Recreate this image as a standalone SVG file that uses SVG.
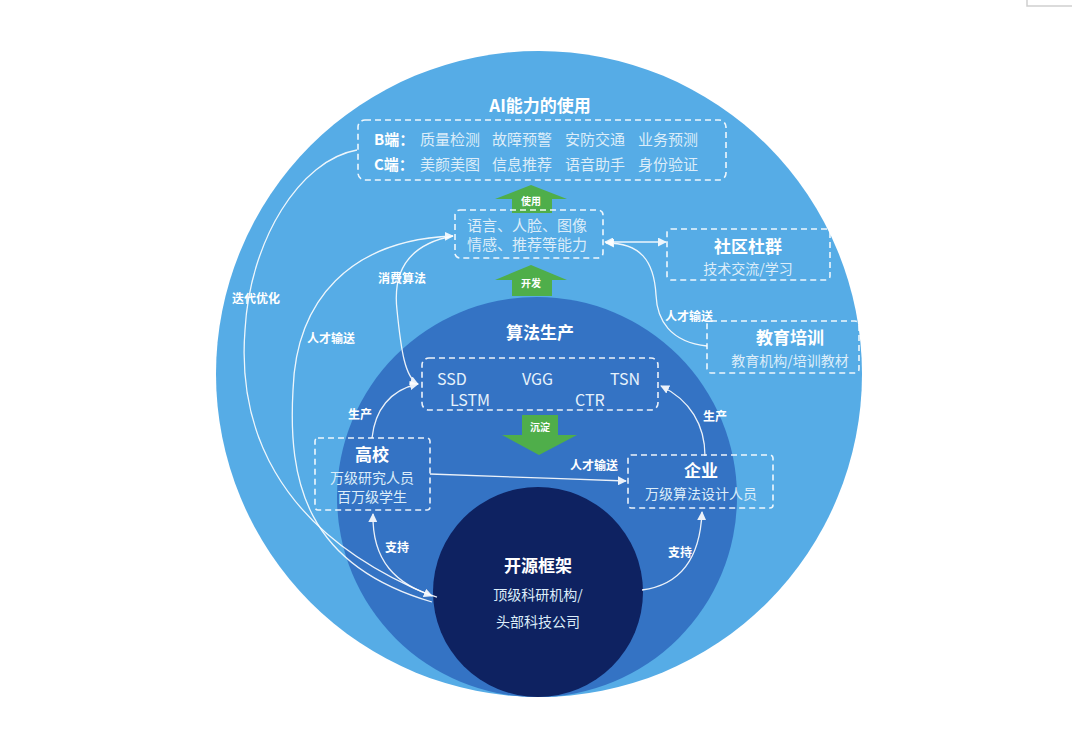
<svg xmlns="http://www.w3.org/2000/svg" width="1080" height="731" viewBox="0 0 1080 731">
<style>
text{font-family:"Noto Sans CJK SC","Noto Sans",sans-serif;}
.box{fill:none;stroke:#ffffff;stroke-width:1.6;stroke-dasharray:6 4;opacity:0.9}
.h{fill:#ffffff;font-weight:700;font-size:17px;text-anchor:middle}
.s{fill:#dcedf9;font-size:15px}
.sc{fill:#dcedf9;font-size:14px;text-anchor:middle}
.lbl{fill:#ffffff;font-weight:700;font-size:12px}
.al{fill:#ffffff;font-weight:700;font-size:10px;text-anchor:middle}
.con{fill:none;stroke:#ffffff;stroke-width:1.3;opacity:0.9}
.green{fill:#4fae4a}
.lat{fill:#e6f2fb;font-size:16px}
</style>
<defs>
<marker id="ah" viewBox="0 0 10 10" refX="9" refY="5" markerWidth="9" markerHeight="9" markerUnits="userSpaceOnUse" orient="auto-start-reverse">
<path d="M0,0 L10,5 L0,10 z" fill="#ffffff"/>
</marker>
</defs>
<rect width="1080" height="731" fill="#ffffff"/>
<path d="M1027 0 V6 H1072" fill="none" stroke="#cfcfcf" stroke-width="1.5"/>

<g id="circles">
<circle cx="539" cy="374" r="323" fill="#56ace6"/>
<circle cx="537" cy="497" r="200" fill="#3473c4"/>
<circle cx="538" cy="592" r="105" fill="#0e2261"/>
</g>

<g id="connectors">
<path class="con" d="M357 150 C300 160 250 240 245 330 C238 420 270 530 432 596" marker-end="url(#ah)"/>
<path class="con" d="M432 602 C305 565 288 480 293 390 C296 300 350 240 453 236" marker-end="url(#ah)"/>
<path class="con" d="M453 236 C405 245 393 275 397 310 C401 350 405 378 418 384" marker-end="url(#ah)"/>
<path class="con" d="M372 438 C375 410 390 390 418 384" marker-end="url(#ah)"/>
<path class="con" d="M705 456 C705 425 690 400 661 386" marker-end="url(#ah)"/>
<path class="con" d="M437 597 C395 585 372 560 373 514" marker-end="url(#ah)"/>
<path class="con" d="M642 590 C680 585 700 560 702 512" marker-end="url(#ah)"/>
<path class="con" d="M430 474 C500 476 560 479 626 481" marker-end="url(#ah)"/>
<path class="con" d="M605 242 L666 242" marker-start="url(#ah)" marker-end="url(#ah)"/>
<path class="con" d="M707 346 C670 342 657 320 656 295 C654 260 640 243 606 243" marker-end="url(#ah)"/>
<text class="lbl" x="232" y="303">迭代优化</text>
<text class="lbl" x="307" y="343">人才输送</text>
<text class="lbl" x="378" y="283">消费算法</text>
<text class="lbl" x="348" y="419">生产</text>
<text class="lbl" x="703" y="421">生产</text>
<text class="lbl" x="570" y="470">人才输送</text>
<text class="lbl" x="665" y="321">人才输送</text>
<text class="lbl" x="385" y="552">支持</text>
<text class="lbl" x="668" y="557">支持</text>
</g>

<g id="arrow-use">
<polygon class="green" points="531,185 567,199 552,199 552,213 512,213 512,199 495,199"/>
<text class="al" x="531" y="205">使用</text>
</g>
<g id="arrow-dev">
<polygon class="green" points="531,265 567,280 552,280 552,296 512,296 512,280 495,280"/>
<text class="al" x="531" y="287">开发</text>
</g>
<g id="arrow-settle">
<polygon class="green" points="522,415 558,415 558,435 577,435 539,455 502,435 522,435"/>
<text class="al" x="540" y="431">沉淀</text>
</g>

<g id="node-ai-use">
<text class="h" x="540" y="112" font-size="19">AI能力的使用</text>
<rect class="box" x="358" y="120" width="368" height="60" rx="7"/>
<text x="374" y="145" fill="#ffffff" font-weight="700" font-size="15">B端：</text>
<text class="s" x="420" y="145">质量检测</text>
<text class="s" x="492" y="145">故障预警</text>
<text class="s" x="565" y="145">安防交通</text>
<text class="s" x="638" y="145">业务预测</text>
<text x="374" y="170" fill="#ffffff" font-weight="700" font-size="15">C端：</text>
<text class="s" x="420" y="170">美颜美图</text>
<text class="s" x="492" y="170">信息推荐</text>
<text class="s" x="565" y="170">语音助手</text>
<text class="s" x="638" y="170">身份验证</text>
</g>

<g id="node-ability">
<rect class="box" x="455" y="210" width="148" height="48" rx="5"/>
<text class="s" x="467" y="231">语言、人脸、图像</text>
<text class="s" x="467" y="250">情感、推荐等能力</text>
</g>

<g id="node-community">
<rect class="box" x="667" y="229" width="163" height="51" rx="4"/>
<text class="h" x="748" y="253">社区杜群</text>
<text class="sc" x="748" y="274">技术交流/学习</text>
</g>

<g id="node-education">
<rect class="box" x="707" y="321" width="152" height="52" rx="4"/>
<text class="h" x="790" y="344">教育培训</text>
<text class="sc" x="790" y="366">教育机构/培训教材</text>
</g>

<g id="node-algo">
<text class="h" x="540" y="339">算法生产</text>
<rect class="box" x="422" y="358" width="236" height="52" rx="7"/>
<text class="lat" x="437" y="385">SSD</text>
<text class="lat" x="522" y="385">VGG</text>
<text class="lat" x="610" y="385">TSN</text>
<text class="lat" x="450" y="406">LSTM</text>
<text class="lat" x="575" y="406">CTR</text>
</g>

<g id="node-university">
<rect class="box" x="315" y="438" width="115" height="72" rx="3"/>
<text class="h" x="372" y="461">高校</text>
<text class="sc" x="372" y="483">万级研究人员</text>
<text class="sc" x="372" y="502">百万级学生</text>
</g>

<g id="node-enterprise">
<rect class="box" x="628" y="455" width="145" height="53" rx="3"/>
<text class="h" x="701" y="477">企业</text>
<text class="sc" x="701" y="499">万级算法设计人员</text>
</g>

<g id="node-framework">
<text class="h" x="538" y="572">开源框架</text>
<text class="sc" x="538" y="600" font-size="15">顶级科研机构/</text>
<text class="sc" x="538" y="627" font-size="15">头部科技公司</text>
</g>
</svg>
